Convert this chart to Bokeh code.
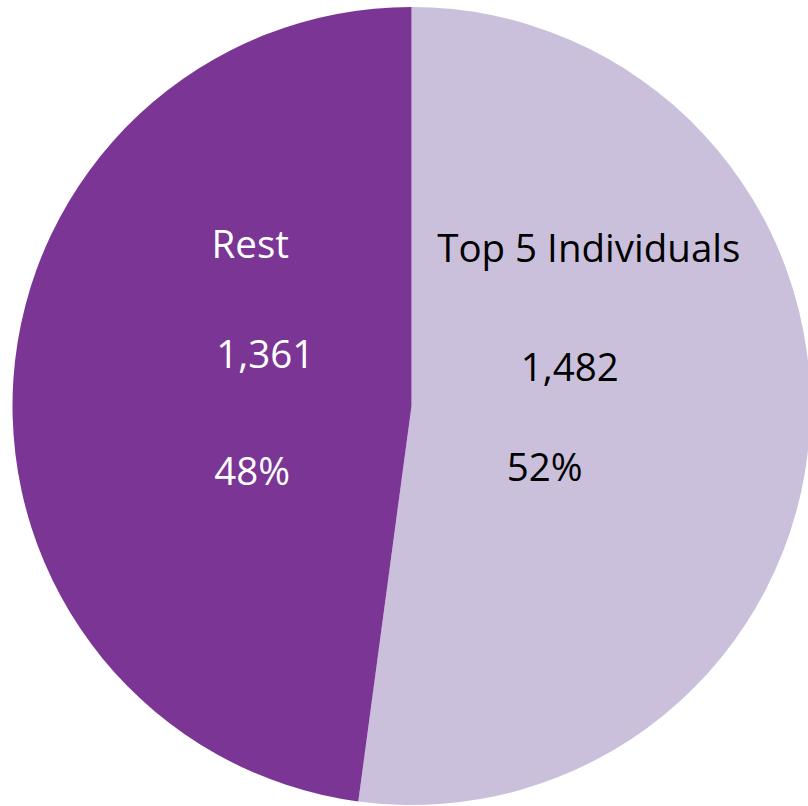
import math
from bokeh.plotting import figure
from bokeh.models import ColumnDataSource
from bokeh.core.properties import value
from bokeh.embed import file_html
from bokeh.resources import INLINE

# ---- data ----
categories = ["Top 5 Individuals", "Rest"]
counts = [1482, 1361]
value_labels = ["1,482", "1,361"]
colors = ["#CBC0DC", "#7B3594"]
text_colors = ["#000000", "#FFFFFF"]

# ---- layout ----
W, H = 808, 806
CX, CY, R = 411, 400.5, 399
LABEL_K = 0.39
ROW_DY = [161.5, 46.5, -61.5]  # name, value, percent rows relative to centre
# small per-label nudges (px, +x right, +y down) for name, value, percent rows
NUDGE_X = [[22, 3, -22], [-6, 9, -4]]
NUDGE_Y = [[2, 7, -2], [-2, -6, 2]]
FONT = "Open Sans"
FONT_SIZE = "38.5px"

total = sum(counts)
starts, ends, mids = [], [], []
a = math.pi / 2
for c in counts:
    sweep = 2 * math.pi * c / total
    starts.append(a)
    ends.append(a - sweep)
    mids.append(a - sweep / 2)
    a -= sweep

pcts = ["%d%%" % round(100 * c / total) for c in counts]

src = ColumnDataSource(dict(
    x=[CX] * len(counts), y=[CY] * len(counts),
    start=starts, end=ends, color=colors,
))

p = figure(width=W, height=H, x_range=(0, W), y_range=(0, H),
           output_backend="svg", toolbar_location=None, min_border=0)
p.axis.visible = False
p.grid.visible = False
p.outline_line_color = None
p.background_fill_color = "white"
p.border_fill_color = "white"

p.wedge(x="x", y="y", radius=R, start_angle="start", end_angle="end",
        direction="clock", fill_color="color", line_color=None, source=src)

lx, ly, lt, lc = [], [], [], []
for i in range(len(counts)):
    ax = CX + LABEL_K * R * math.cos(mids[i])
    rows = [categories[i], value_labels[i], pcts[i]]
    for j, (dy, txt) in enumerate(zip(ROW_DY, rows)):
        lx.append(ax + NUDGE_X[i][j])
        ly.append(CY + dy - NUDGE_Y[i][j])
        lt.append(txt)
        lc.append(text_colors[i])

lsrc = ColumnDataSource(dict(x=lx, y=ly, text=lt, color=lc))
p.text(x="x", y="y", text="text", text_color="color", source=lsrc,
       text_font=value(FONT), text_font_size=FONT_SIZE,
       text_align="center", text_baseline="alphabetic")

open("out.html", "w").write(file_html(p, INLINE))
